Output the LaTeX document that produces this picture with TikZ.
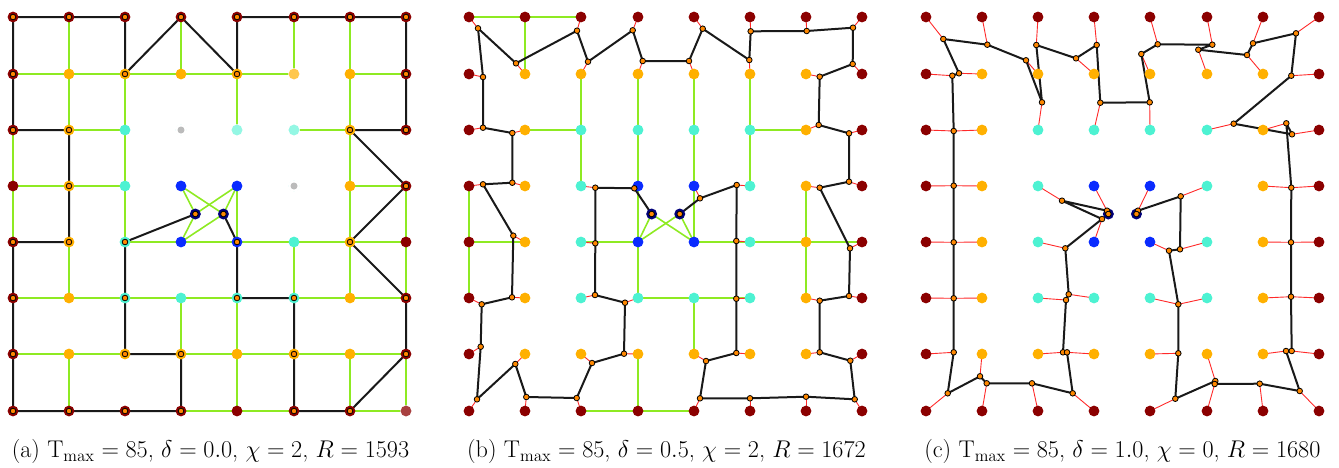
\documentclass[tikz,border=0pt]{standalone}
\definecolor{dred}{HTML}{8B0000}
\definecolor{amber}{HTML}{FFB000}
\definecolor{turq}{HTML}{4DF2D2}
\definecolor{bblue}{HTML}{0A2BFF}
\definecolor{navyc}{HTML}{00007A}
\definecolor{grayc}{HTML}{BBBBBB}
\definecolor{lgreen}{HTML}{8EEA22}
\definecolor{mko}{HTML}{FF8800}
\definecolor{redl}{HTML}{FF2A2A}
\begin{document}
\begin{tikzpicture}[x=1pt,y=-1pt,
  dot/.style={circle,inner sep=0pt,minimum size=10.8pt,draw=none},
  gdot/.style={circle,inner sep=0pt,minimum size=7pt,fill=grayc,draw=none},
  ndot/.style={circle,inner sep=0pt,minimum size=11pt,fill=navyc,draw=none},
  mk/.style={circle,inner sep=0pt,minimum size=5.6pt,fill=mko,draw=black,line width=0.8pt},
  gE/.style={draw=lgreen,line width=1.6pt},
  bE/.style={draw=black!90,line width=2pt,line join=round},
  rE/.style={draw=redl,line width=0.9pt},
  captxt/.style={font=\fontsize{17.28}{20}\selectfont,anchor=base}]
\useasboundingbox (0,0) rectangle (1339,467);
% grid coordinates
\foreach \p/\X in {a/12.7,b/469,c/925.7}{
  \foreach \i in {0,...,7}{\foreach \j in {0,...,7}{
     \coordinate (\p\i\j) at ({round(\X+56.2*\i)},{round(17.3+56.2*\j)});}}
  \coordinate (\p Na) at ({\X+56.2*3.25},{17.3+56.2*3.5});
  \coordinate (\p Nb) at ({\X+56.2*3.75},{17.3+56.2*3.5});
}
% waypoints panel b
\foreach \n/\x/\y in {P1/478.0/28.3,P2/516.0/63.3,P3/577.0/30.7,P4/588.0/61.7,P5/632.7/30.3,P6/642.7/61.0,
  P7/483.0/77.0,P8/483.0/127.7,P9/512.3/133.0,P10/483.0/184.3,P11/512.3/182.7,P12/595.3/187.7,P13/634.3/188.3,
  Q1/702.7/28.7,Q2/689.0/61.0,Q3/750.7/31.3,Q4/749.3/60.0,Q5/806.7/31.0,Q6/853.0/27.7,Q7/852.7/64.0,
  Q8/819.7/76.7,Q9/818.7/125.0,Q10/849.0/133.3,Q11/849.0/181.7,Q12/819.7/187.7,Q13/736.7/185.0,Q14/700.0/198.3,
  R1/513.3/235.7,R2/512.0/297.3,R3/481.7/304.3,R4/480.7/346.7,R5/477.0/399.3,R6/515.3/364.0,R7/526.3/397.0,
  R8/576.7/398.0,R9/592.0/363.0,R10/624.0/353.7,R11/625.0/302.7,R12/595.0/295.0,R13/595.3/243.3,
  S1/736.3/241.0,S2/736.3/298.7,S3/736.3/353.0,S4/706.0/361.0,S5/700.0/398.3,S6/750.0/398.3,S7/806.0/396.7,
  S8/854.7/399.3,S9/850.3/360.7,S10/819.7/352.3,S11/819.7/300.7,S12/849.0/296.0,S13/850.0/248.3}
  {\coordinate (b\n) at (\x,\y);}
% waypoints panel c
\foreach \n/\x/\y in {C1/943.3/39.0,C2/987.3/44.7,C3/1026.0/60.3,C4/1036.3/45.0,C5/1042.0/102.3,C6/1076.0/58.3,
  C7/1096.7/45.0,C8/1100.3/102.7,C9/959.0/73.3,C10/952.3/75.7,C11/953.7/131.0,C12/953.7/185.7,C13/1062.0/200.7,
  C14/1107.0/210.7,C15/1102.0/219.0,
  D1/1157.7/44.3,D2/1141.3/54.0,D3/1149.7/102.3,D4/1212.3/44.7,D5/1198.3/49.7,D6/1247.0/55.0,D7/1253.0/43.3,
  D8/1296.0/33.3,D9/1291.3/75.7,D10/1233.7/123.7,D11/1286.3/123.3,D12/1292.0/134.3,D13/1291.3/187.7,
  D14/1180.7/196.3,D15/1138.0/210.7,
  E1/953.7/242.3,E2/953.7/298.3,E3/953.7/352.3,E4/947.7/393.3,E5/980.0/376.3,E6/986.7/383.3,E7/1032.0/383.3,
  E8/1072.7/393.3,E9/1063.0/352.3,E10/1067.0/352.3,E11/1066.0/300.0,E12/1068.7/294.3,E13/1065.3/248.3,
  F1/1169.0/250.7,F2/1180.0/249.3,F3/1178.3/304.3,F4/1178.3/353.3,F5/1175.3/398.7,F6/1215.3/381.0,
  F7/1214.7/384.0,F8/1259.7/383.7,F9/1299.7/391.0,F10/1286.0/351.0,F11/1291.7/351.0,F12/1291.0/296.7,F13/1291.0/242.3}
  {\coordinate (c\n) at (\x,\y);}
% ---------- green edges
\foreach \u/\v in {01/11,11/21,21/31,31/41,41/51,61/71,12/22,52/62,03/13,13/23,63/73,24/34,34/44,44/54,54/64,64/74,
  05/15,15/25,25/35,35/45,55/65,65/75,06/16,16/26,36/46,46/56,56/66,66/76,37/47,47/57,67/77,
  02/03,03/04,10/11,11/12,14/15,16/17,21/22,22/23,23/24,30/31,35/36,41/42,43/44,45/46,46/47,50/51,54/55,
  60/61,61/62,62/63,63/64,64/65,66/67,73/74,74/75,76/77,33/Na,33/Nb,43/Na,43/Nb,34/Na,34/Nb}
  {\draw[gE] (a\u) -- (a\v);}
\foreach \u/\v in {00/10,10/20,10/11,21/22,12/22,22/23,31/32,32/33,03/04,33/34,41/42,42/43,43/44,51/52,52/53,52/62,
  63/64,04/14,04/05,24/34,34/35,35/45,36/37,27/37,37/47,44/54,54/64,64/74,64/65,45/55,45/46,
  Na/34,Na/44,Nb/34,Nb/44}
  {\draw[gE] (b\u) -- (b\v);}
% ---------- red edges
\foreach \w/\v in {P1/00,P2/11,P3/20,P4/21,P5/30,P6/31,P7/01,P8/02,P9/12,P10/03,P11/13,P12/23,P13/33,
  Q1/40,Q2/41,Q3/50,Q4/51,Q5/60,Q6/70,Q7/71,Q8/61,Q9/62,Q10/72,Q11/73,Q12/63,Q13/53,Q14/43,
  R1/14,R2/15,R3/05,R4/06,R5/07,R6/16,R7/17,R8/27,R9/26,R10/36,R11/35,R12/25,R13/24,
  S1/54,S2/55,S3/56,S4/46,S5/47,S6/57,S7/67,S8/77,S9/76,S10/66,S11/65,S12/75,S13/74}
  {\draw[rE] (b\w) -- (b\v);}
\foreach \w/\v in {C1/00,C2/10,C3/21,C4/20,C5/22,C6/31,C7/30,C8/32,C9/11,C10/01,C11/02,C11/12,C12/03,C12/13,
  C13/23,C14/33,C15/34,D1/40,D2/41,D3/42,D4/50,D5/51,D6/61,D7/60,D8/70,D9/71,D10/52,D11/62,D12/72,D13/63,
  D13/73,D14/53,D15/43,E1/04,E1/14,E2/05,E2/15,E3/06,E4/07,E5/16,E6/17,E7/27,E8/37,E9/26,E10/36,E11/25,
  E12/35,E13/24,F1/44,F2/54,F3/45,F3/55,F4/46,F5/47,F6/56,F7/57,F8/67,F9/77,F10/66,F11/76,F12/65,F12/75,
  F13/64,F13/74}
  {\draw[rE] (c\w) -- (c\v);}
% ---------- black tours
\draw[bE] (aNb) -- (a44) -- (a45) -- (a55) -- (a56) -- (a57) -- (a67) -- (a76) -- (a75) -- (a64) -- (a73)
  -- (a62) -- (a72) -- (a71) -- (a70) -- (a60) -- (a50) -- (a40) -- (a41) -- (a30) -- (a21) -- (a20) -- (a10)
  -- (a00) -- (a01) -- (a02) -- (a12) -- (a13) -- (a14) -- (a04) -- (a05) -- (a06) -- (a07) -- (a17) -- (a27)
  -- (a37) -- (a36) -- (a26) -- (a25) -- (a24) -- (aNa);
\draw[bE] (bP1) -- (bP7) -- (bP8) -- (bP9) -- (bP11) -- (bP10) -- (bR1) -- (bR2) -- (bR3) -- (bR4) -- (bR5)
  -- (bR6) -- (bR7) -- (bR8) -- (bR9) -- (bR10) -- (bR11) -- (bR12) -- (bR13) -- (bP12) -- (bP13) -- (bNa);
\draw[bE] (bNb) -- (bQ14) -- (bQ13) -- (bS1) -- (bS2) -- (bS3) -- (bS4) -- (bS5) -- (bS6) -- (bS7) -- (bS8)
  -- (bS9) -- (bS10) -- (bS11) -- (bS12) -- (bS13) -- (bQ12) -- (bQ11) -- (bQ10) -- (bQ9) -- (bQ8) -- (bQ7)
  -- (bQ6) -- (bQ5) -- (bQ3) -- (bQ4) -- (bQ1) -- (bQ2) -- (bP6) -- (bP5) -- (bP4) -- (bP3) -- (bP2) -- (bP1);
\draw[bE] (cC1) -- (cC9) -- (cC10) -- (cC11) -- (cC12) -- (cE1) -- (cE2) -- (cE3) -- (cE4) -- (cE5) -- (cE6)
  -- (cE7) -- (cE8) -- (cE10) -- (cE9) -- (cE11) -- (cE12) -- (cE13) -- (cC15) -- (cC13) -- (cC14) -- (cNa);
\draw[bE] (cNb) -- (cD15) -- (cD14) -- (cF2) -- (cF1) -- (cF3) -- (cF4) -- (cF5) -- (cF6) -- (cF7) -- (cF8)
  -- (cF9) -- (cF10) -- (cF11) -- (cF12) -- (cF13) -- (cD13) -- (cD11) -- (cD12) -- (cD10) -- (cD9) -- (cD8)
  -- (cD7) -- (cD6) -- (cD5) -- (cD4) -- (cD1) -- (cD2) -- (cD3) -- (cC8) -- (cC7) -- (cC6) -- (cC4) -- (cC5)
  -- (cC3) -- (cC2) -- (cC1);
% ---------- dots
\foreach \p in {a,b,c}{
 \foreach \i in {0,...,7}{\foreach \j in {0,...,7}{
   \pgfmathtruncatemacro\k{min(\i,\j,7-\i,7-\j)}
   \ifcase\k \def\cc{dred}\or\def\cc{amber}\or\def\cc{turq}\else\def\cc{bblue}\fi
   \node[dot,fill=\cc] (d\p\i\j) at (\p\i\j) {};
 }}
 \node[ndot] (d\p Na) at (\p Na) {};
 \node[ndot] (d\p Nb) at (\p Nb) {};
}
% panel a exceptions
\foreach \q in {32,53,51,42,52,77}{\fill[white] (a\q) circle (5.8pt);}
\node[gdot] (ga32) at (a32) {};
\node[gdot] (ga53) at (a53) {};
\node[dot,fill=amber,opacity=0.7] (fa51) at (a51) {};
\node[dot,fill=turq,opacity=0.6] (fa42) at (a42) {};
\node[dot,fill=turq,opacity=0.6] (fa52) at (a52) {};
\node[dot,fill=dred,opacity=0.75] (fa77) at (a77) {};
% ---------- markers
\foreach \q in {00,10,20,21,30,41,40,50,60,70,71,72,62,73,64,75,76,67,57,56,55,45,44,24,25,26,36,37,27,17,
  07,06,05,04,14,13,12,02,01,Na,Nb}
  {\node[mk] (ma\q) at (a\q) {};}
\foreach \q in {P1,P2,P3,P4,P5,P6,P7,P8,P9,P10,P11,P12,P13,Q1,Q2,Q3,Q4,Q5,Q6,Q7,Q8,Q9,Q10,Q11,Q12,Q13,Q14,
  R1,R2,R3,R4,R5,R6,R7,R8,R9,R10,R11,R12,R13,S1,S2,S3,S4,S5,S6,S7,S8,S9,S10,S11,S12,S13,Na,Nb}
  {\node[mk] (mb\q) at (b\q) {};}
\foreach \q in {C1,C2,C3,C4,C5,C6,C7,C8,C9,C10,C11,C12,C13,C14,C15,D1,D2,D3,D4,D5,D6,D7,D8,D9,D10,D11,D12,
  D13,D14,D15,E1,E2,E3,E4,E5,E6,E7,E8,E9,E10,E11,E12,E13,F1,F2,F3,F4,F5,F6,F7,F8,F9,F10,F11,F12,F13,Na,Nb}
  {\node[mk] (mc\q) at (c\q) {};}
% ---------- captions
\node[captxt] (capa) at (210.5,457.7) {\scalebox{1.4}{(a) $\mathrm{T}_{\max} = 85$, $\delta = 0.0$, $\chi = 2$, $R = 1593$}};
\node[captxt] (capb) at (666.5,457.7) {\scalebox{1.4}{(b) $\mathrm{T}_{\max} = 85$, $\delta = 0.5$, $\chi = 2$, $R = 1672$}};
\node[captxt] (capc) at (1122.4,457.7) {\scalebox{1.4}{(c) $\mathrm{T}_{\max} = 85$, $\delta = 1.0$, $\chi = 0$, $R = 1680$}};
\end{tikzpicture}
\end{document}
